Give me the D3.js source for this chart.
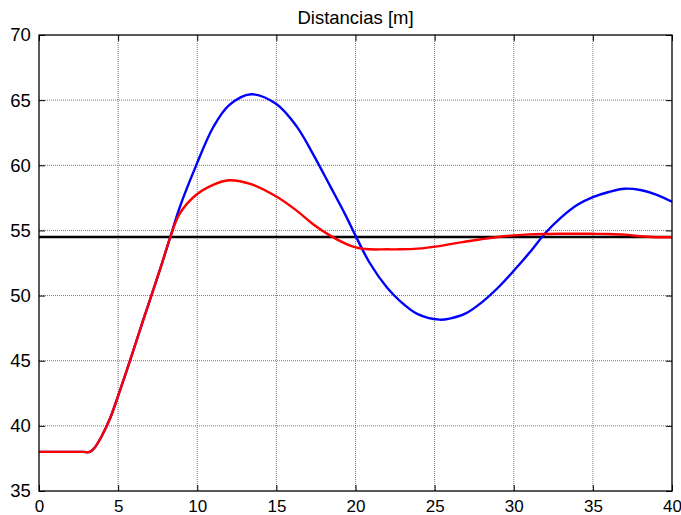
<!DOCTYPE html>
<html>
<head>
<meta charset="utf-8">
<script src="https://cdn.jsdelivr.net/npm/d3@7"></script>
<style>
  body { margin: 0; background: #fff; }
  svg { display: block; font-family: "Liberation Sans", Arial, Helvetica, sans-serif; }
</style>
</head>
<body>
<svg id="chart" width="681" height="515"></svg>
<script>
// Values
var title = 'Distancias [m]';
var xTicks = [0, 5, 10, 15, 20, 25, 30, 35, 40];
var yTicks = [35, 40, 45, 50, 55, 60, 65, 70];
var reference = 54.5;

var time = [0, 1.5, 2.8, 3.2, 3.5, 4.0, 4.5, 5.0, 5.75, 6.5, 7.1, 7.7,
  8.3, 8.9, 9.9, 11.0, 12.0, 13.4, 15.0, 16.3, 17.3, 18.4,
  19.4, 20.0, 20.9, 22.0, 22.8, 23.9, 25.3, 26.0, 27.0, 28.0,
  29.0, 30.0, 31.0, 32.0, 33.0, 34.0, 35.0, 36.0, 37.0, 38.0,
  39.0, 40.0];

var blue = [38.0, 38.0, 38.0, 38.0, 38.3, 39.3, 40.6, 42.3, 45.0, 47.8, 50.0, 52.2,
  54.5, 56.8, 59.9, 62.9, 64.6, 65.45, 64.7, 62.95, 60.9, 58.4,
  56.1, 54.6, 52.5, 50.6, 49.6, 48.6, 48.15, 48.25, 48.65, 49.5,
  50.6, 51.9, 53.3, 54.8, 56.0, 56.95, 57.55, 57.95, 58.2, 58.1,
  57.75, 57.2];

var red = [38.0, 38.0, 38.0, 38.0, 38.3, 39.3, 40.6, 42.3, 45.0, 47.8, 50.0, 52.2,
  54.5, 56.3, 57.7, 58.5, 58.85, 58.55, 57.6, 56.5, 55.5, 54.6,
  53.97, 53.7, 53.55, 53.55, 53.55, 53.6, 53.8, 53.95, 54.15, 54.33,
  54.5, 54.62, 54.7, 54.73, 54.74, 54.74, 54.74, 54.73, 54.68, 54.55,
  54.48, 54.48];

var margin = { top: 35, right: 9, bottom: 24, left: 39 };
var svg = d3.select('#chart');
var width = +svg.attr('width') - margin.left - margin.right;
var height = +svg.attr('height') - margin.top - margin.bottom;

var x = d3.scaleLinear().domain([0, 40]).range([0, width]);
var y = d3.scaleLinear().domain([35, 70]).range([height, 0]);

var g = svg.append('g').attr('transform', 'translate(' + margin.left + ',' + margin.top + ')');

// dotted grid
g.append('g')
  .selectAll('line')
  .data(xTicks.slice(1, -1))
  .enter()
  .append('line')
  .attr('x1', x).attr('x2', x)
  .attr('y1', 0).attr('y2', height)
  .attr('stroke', '#7a7a7a')
  .attr('stroke-dasharray', '1,1');

g.append('g')
  .selectAll('line')
  .data(yTicks.slice(1, -1))
  .enter()
  .append('line')
  .attr('y1', y).attr('y2', y)
  .attr('x1', 0).attr('x2', width)
  .attr('stroke', '#7a7a7a')
  .attr('stroke-dasharray', '1,1');

// axes, ticks pointing inward on all four sides
var tickLen = 6;

var bottomAxis = g.append('g')
  .attr('transform', 'translate(0,' + height + ')')
  .call(d3.axisBottom(x).tickValues(xTicks).tickSize(-tickLen).tickPadding(9));
var topAxis = g.append('g')
  .call(d3.axisTop(x).tickValues(xTicks).tickSize(-tickLen).tickFormat(''));
var leftAxis = g.append('g')
  .call(d3.axisLeft(y).tickValues(yTicks).tickSize(-tickLen).tickPadding(tickLen + 4));
var rightAxis = g.append('g')
  .attr('transform', 'translate(' + width + ',0)')
  .call(d3.axisRight(y).tickValues(yTicks).tickSize(-tickLen).tickFormat(''));

[bottomAxis, topAxis, leftAxis, rightAxis].forEach(function(ax) {
  ax.select('.domain').remove();
  ax.selectAll('.tick line').attr('stroke', '#000');
  ax.selectAll('text')
    .attr('fill', '#000')
    .style('font-family', '"Liberation Sans", Arial, sans-serif');
});
leftAxis.selectAll('text').attr('dx', '0.1em').style('font-size', '18.5px');
bottomAxis.selectAll('text').attr('dy', '0.7em').style('font-size', '17px');

// reference line
g.append('line')
  .attr('x1', 0).attr('x2', width)
  .attr('y1', y(reference)).attr('y2', y(reference))
  .attr('stroke', '#000')
  .attr('stroke-width', 2.5);

var line = d3.line()
  .x(function(d, i) { return x(time[i]); })
  .y(function(d) { return y(d); })
  .curve(d3.curveCatmullRom.alpha(0.5));

g.append('path')
  .datum(blue)
  .attr('d', line)
  .attr('fill', 'none')
  .attr('stroke', '#0000ff')
  .attr('stroke-width', 2.4);

g.append('path')
  .datum(red)
  .attr('d', line)
  .attr('fill', 'none')
  .attr('stroke', '#ff0000')
  .attr('stroke-width', 2.4);

// box
g.append('rect')
  .attr('width', width)
  .attr('height', height)
  .attr('fill', 'none')
  .attr('stroke', '#000')
  .attr('stroke-width', 1.3);

svg.append('text')
  .attr('x', margin.left + width / 2)
  .attr('y', 24)
  .attr('text-anchor', 'middle')
  .style('font-size', '18.5px')
  .text(title);
</script>
</body>
</html>
